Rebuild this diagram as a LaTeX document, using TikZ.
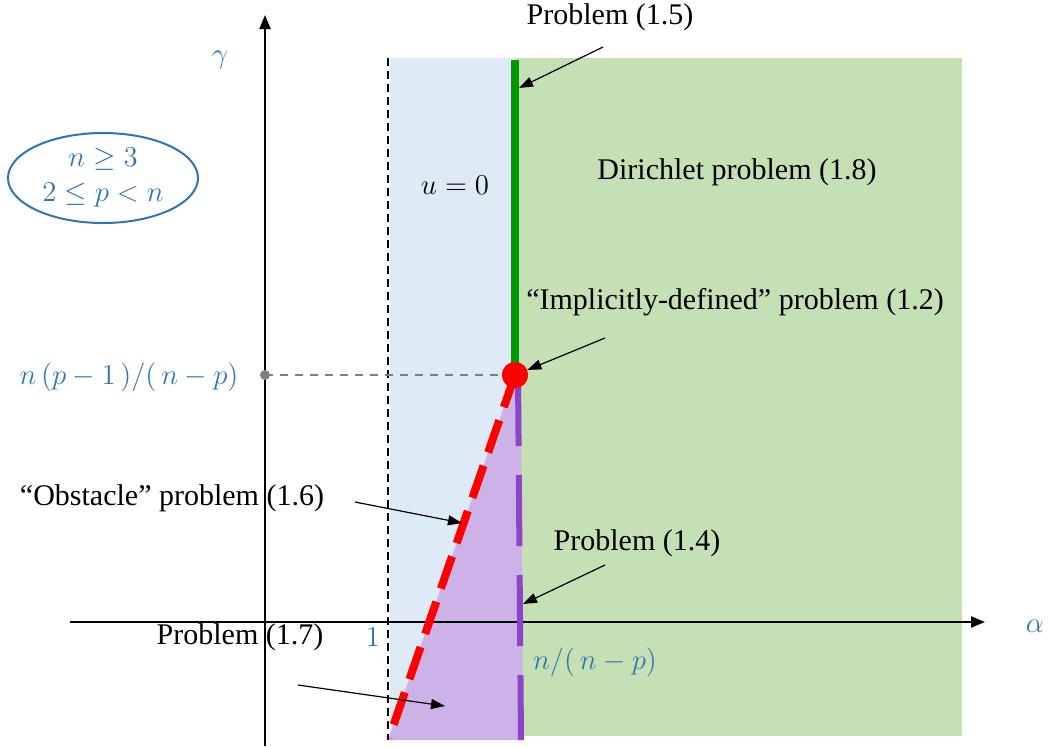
\documentclass[tikz,border=0pt]{standalone}
\usepackage{fontspec}
\setmainfont{Liberation Serif}
\usetikzlibrary{arrows.meta,shapes.geometric}
\definecolor{lblue}{HTML}{DEEBF7}
\definecolor{lgreen}{HTML}{C5E0B4}
\definecolor{lpurple}{HTML}{CDB2E8}
\definecolor{dpurple}{HTML}{8E44C8}
\definecolor{dgreen}{HTML}{009A00}
\definecolor{tblue}{HTML}{2E75B6}
\definecolor{dotgrey}{HTML}{7F7F7F}
\begin{document}
\begin{tikzpicture}[x=0.5pt,y=-0.5pt,
  lbl/.style={font=\fontsize{15}{17}\selectfont, inner sep=0pt},
  mlbl/.style={text=tblue, font=\fontsize{15}{18}\selectfont, inner sep=0pt},
  pointer/.style={-{Triangle[length=7pt,width=5pt]}, line width=0.6pt},
  axis/.style={-{Triangle[length=7pt,width=5.5pt]}, line width=1pt}]
\useasboundingbox (0,0) rectangle (1048,746);
% regions
\fill[lblue] (390,58) rectangle (515,740);
\fill[lgreen] (515,58) rectangle (962,736);
\fill[lpurple] (515,375) -- (388,740) -- (523,740) -- (521,375) -- cycle;
% dashed boundary alpha = 1
\coordinate (dtop) at (388,58);
\coordinate (dbot) at (388,740);
\draw[line width=0.8pt, dash pattern=on 4pt off 2.5pt] (dtop) -- (dbot);
% axes
\coordinate (xs) at (70,622);
\coordinate (xe) at (985,622);
\coordinate (ys) at (265,746);
\coordinate (ye) at (265,15);
\draw[axis] (xs) -- (xe);
\draw[axis] (ys) -- (ye);
% level line
\node[circle, fill=dotgrey, minimum size=5pt, inner sep=0pt] (gdot) at (265,375) {};
\node[circle, fill=red, minimum size=13pt, inner sep=0pt] (dot) at (515,375) {};
\draw[dotgrey, line width=0.7pt, dash pattern=on 4pt off 3.5pt] (gdot.center) -- (dot.center);
% green segment
\coordinate (gtop) at (515,60);
\draw[dgreen, line width=4pt] (gtop) -- (dot.center);
% purple dashed
\coordinate (ptop) at (518,375);
\coordinate (pbot) at (521,740);
\draw[dpurple, line width=3pt, dash pattern=on 35.5pt off 14.5pt] (ptop) -- (pbot);
% red dashed
\coordinate (rbot) at (389,738);
\draw[red, line width=4pt, dash pattern=on 17pt off 7pt] (dot.center) -- (rbot);
\node[circle, fill=red, minimum size=13pt, inner sep=0pt] at (515,375) {};
% labels
\node[mlbl] (gamma) at (220,60) {$\gamma$};
\node[mlbl] (alpha) at (1035,626) {$\alpha$};
\node[ellipse, draw=tblue, line width=1pt, minimum width=95pt, minimum height=45pt, inner sep=0pt,
      text=tblue, align=center, font=\fontsize{15}{17.5}\selectfont] (cond) at (103,178)
      {$n\geq 3$\\$2\leq p<n$};
\node[mlbl] (nval) at (129,377) {$n\,(p-1\,)/(\,n-p)$};
\node[mlbl] (one) at (373,637) {$1$};
\node[mlbl] (nnp) at (595,662) {$n/(\,n-p)$};
\node[lbl] (uzero) at (455,185) {$u=0$};
\node[lbl] (dir) at (737,172) {Dirichlet problem (1.8)};
\node[lbl] (p15) at (610,17) {Problem (1.5)};
\node[lbl] (impl) at (735,302) {“Implicitly-defined” problem (1.2)};
\node[lbl] (obst) at (172,498) {“Obstacle” problem (1.6)};
\node[lbl] (p14) at (637,543) {Problem (1.4)};
\node[lbl] (p17) at (240,637) {Problem (1.7)};
% pointers
\coordinate (a15s) at (603,47);  \coordinate (a15e) at (519,88);
\draw[pointer] (a15s) -- (a15e);
\coordinate (a12s) at (605,338);
\draw[pointer] (a12s) -- (dot);
\coordinate (a16s) at (355,502); \coordinate (a16e) at (462,523);
\draw[pointer] (a16s) -- (a16e);
\coordinate (a14s) at (605,565); \coordinate (a14e) at (523,604);
\draw[pointer] (a14s) -- (a14e);
\coordinate (a17s) at (298,685); \coordinate (a17e) at (445,706);
\draw[pointer] (a17s) -- (a17e);
\end{tikzpicture}
\end{document}
